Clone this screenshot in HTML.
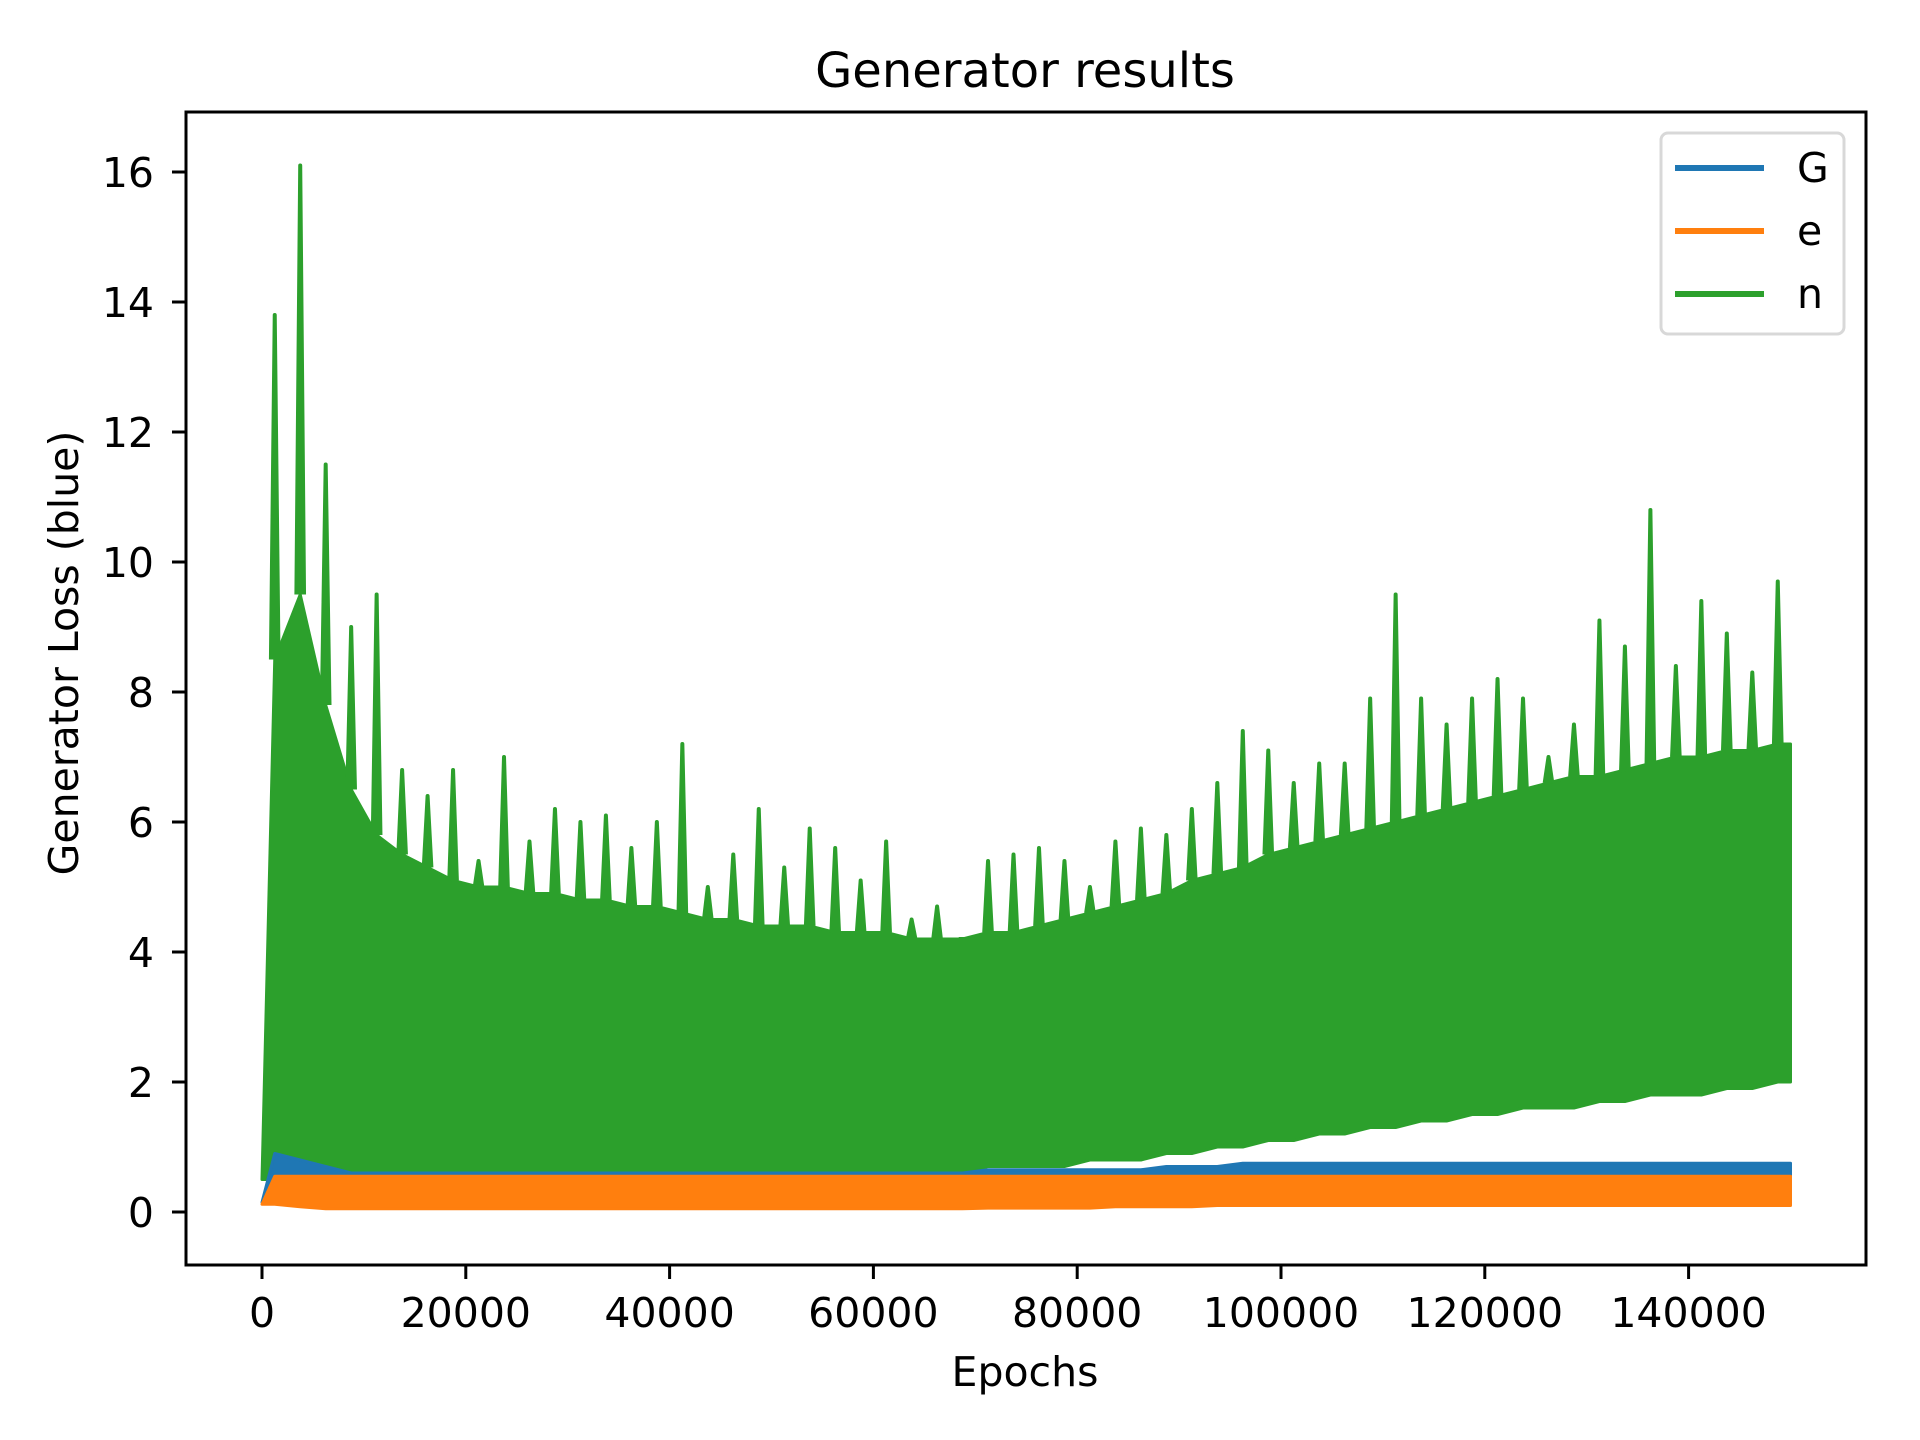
<!DOCTYPE html>
<html><head><meta charset="utf-8"><style>
html,body{margin:0;padding:0;background:#fff;}
svg{display:block;font-family:"DejaVu Sans","Liberation Sans",sans-serif;}
</style></head><body>
<svg id="chart" width="1920" height="1440" viewBox="0 0 1920 1440" xmlns="http://www.w3.org/2000/svg">
<rect width="1920" height="1440" fill="#fff"/>
<text x="1025" y="87" font-size="48" text-anchor="middle" fill="#000">Generator results</text>
<g id="plot"></g>
<g id="axes"></g>
<text x="1025" y="1386" font-size="41" text-anchor="middle">Epochs</text>
<text transform="translate(78,653) rotate(-90)" font-size="41" text-anchor="middle">Generator Loss (blue)</text>
<g>
<rect x="1661" y="133" width="183" height="201" rx="7" fill="#fff" stroke="#d6d6d6" stroke-width="3" opacity="0.95"/>
<g><line x1="1675" y1="168" x2="1764" y2="168" stroke="#1f77b4" stroke-width="6"/><text x="1797" y="182" font-size="41">G</text></g>
<g><line x1="1675" y1="231" x2="1764" y2="231" stroke="#ff7f0e" stroke-width="6"/><text x="1797" y="245" font-size="41">e</text></g>
<g><line x1="1675" y1="294" x2="1764" y2="294" stroke="#2ca02c" stroke-width="6"/><text x="1797" y="308" font-size="41">n</text></g>
</g>
</svg>
<script>
const binEpochs = [1250,3750,6250,8750,11250,13750,16250,18750,21250,23750,26250,28750,31250,33750,36250,38750,41250,43750,46250,48750,51250,53750,56250,58750,61250,63750,66250,68750,71250,73750,76250,78750,81250,83750,86250,88750,91250,93750,96250,98750,101250,103750,106250,108750,111250,113750,116250,118750,121250,123750,126250,128750,131250,133750,136250,138750,141250,143750,146250,148750];
const greenPeak = [13.8,16.1,11.5,9.0,9.5,6.8,6.4,6.8,5.4,7.0,5.7,6.2,6.0,6.1,5.6,6.0,7.2,5.0,5.5,6.2,5.3,5.9,5.6,5.1,5.7,4.5,4.7,4.2,5.4,5.5,5.6,5.4,5.0,5.7,5.9,5.8,6.2,6.6,7.4,7.1,6.6,6.9,6.9,7.9,9.5,7.9,7.5,7.9,8.2,7.9,7.0,7.5,9.1,8.7,10.8,8.4,9.4,8.9,8.3,9.7];
const greenBody = [8.5,9.5,7.8,6.5,5.8,5.5,5.3,5.1,5.0,5.0,4.9,4.9,4.8,4.8,4.7,4.7,4.6,4.5,4.5,4.4,4.4,4.4,4.3,4.3,4.3,4.2,4.2,4.2,4.3,4.3,4.4,4.5,4.6,4.7,4.8,4.9,5.1,5.2,5.3,5.5,5.6,5.7,5.8,5.9,6.0,6.1,6.2,6.3,6.4,6.5,6.6,6.7,6.7,6.8,6.9,7.0,7.0,7.1,7.1,7.2];
const greenLow = [0.5,0.4,0.4,0.5,0.5,0.5,0.5,0.5,0.5,0.5,0.5,0.5,0.5,0.4,0.5,0.5,0.5,0.5,0.5,0.5,0.5,0.5,0.5,0.6,0.6,0.6,0.6,0.6,0.7,0.7,0.7,0.7,0.8,0.8,0.8,0.9,0.9,1.0,1.0,1.1,1.1,1.2,1.2,1.3,1.3,1.4,1.4,1.5,1.5,1.6,1.6,1.6,1.7,1.7,1.8,1.8,1.8,1.9,1.9,2.0];
const blueTop = [0.9,0.8,0.7,0.6,0.6,0.6,0.6,0.6,0.6,0.6,0.6,0.6,0.6,0.6,0.6,0.6,0.6,0.6,0.6,0.6,0.6,0.6,0.6,0.6,0.6,0.6,0.6,0.6,0.65,0.65,0.65,0.65,0.65,0.65,0.65,0.7,0.7,0.7,0.75,0.75,0.75,0.75,0.75,0.75,0.75,0.75,0.75,0.75,0.75,0.75,0.75,0.75,0.75,0.75,0.75,0.75,0.75,0.75,0.75,0.75];
const blueLow = [0.15,0.15,0.15,0.15,0.15,0.15,0.15,0.15,0.15,0.15,0.15,0.15,0.15,0.15,0.15,0.15,0.15,0.15,0.15,0.15,0.15,0.15,0.15,0.15,0.15,0.15,0.15,0.15,0.15,0.15,0.15,0.15,0.15,0.15,0.15,0.15,0.15,0.15,0.15,0.15,0.15,0.15,0.15,0.15,0.15,0.15,0.15,0.15,0.15,0.15,0.15,0.15,0.15,0.15,0.15,0.15,0.15,0.15,0.15,0.15];
const orangeTop = [0.55,0.55,0.55,0.55,0.55,0.55,0.55,0.55,0.55,0.55,0.55,0.55,0.55,0.55,0.55,0.55,0.55,0.55,0.55,0.55,0.55,0.55,0.55,0.55,0.55,0.55,0.55,0.55,0.55,0.55,0.55,0.55,0.55,0.55,0.55,0.55,0.55,0.55,0.55,0.55,0.55,0.55,0.55,0.55,0.55,0.55,0.55,0.55,0.55,0.55,0.55,0.55,0.55,0.55,0.55,0.55,0.55,0.55,0.55,0.55];
const orangeLow = [0.12,0.08,0.05,0.05,0.05,0.05,0.05,0.05,0.05,0.05,0.05,0.05,0.05,0.05,0.05,0.05,0.05,0.05,0.05,0.05,0.05,0.05,0.05,0.05,0.05,0.05,0.05,0.05,0.06,0.06,0.06,0.06,0.06,0.08,0.08,0.08,0.08,0.1,0.1,0.1,0.1,0.1,0.1,0.1,0.1,0.1,0.1,0.1,0.1,0.1,0.1,0.1,0.1,0.1,0.1,0.1,0.1,0.1,0.1,0.1];
const xTicks = [0,20000,40000,60000,80000,100000,120000,140000];
const yTicks = [0,2,4,6,8,10,12,14,16];
const binWidth = 2500;

const NS = "http://www.w3.org/2000/svg";
const AX = {l:186, r:1866, t:112, b:1265};
function xs(v){ return 262 + v*203.8/20000; }
function ys(v){ return 1212 - v*65; }
function mk(tag, attrs, parent){ const e=document.createElementNS(NS,tag); for(const k in attrs) e.setAttribute(k,attrs[k]); parent.appendChild(e); return e; }
const plot = document.getElementById('plot');
const axes = document.getElementById('axes');

function band(top, low, color, name){
  let pts=[];
  pts.push([xs(0), ys(low[0])]);
  for(let i=0;i<binEpochs.length;i++) pts.push([xs(binEpochs[i]), ys(top[i])]);
  pts.push([xs(150000), ys(top[top.length-1])]);
  pts.push([xs(150000), ys(low[low.length-1])]);
  for(let i=binEpochs.length-1;i>=0;i--) pts.push([xs(binEpochs[i]), ys(low[i])]);
  const p = mk('polygon',{points:pts.map(q=>q.join(',')).join(' '), fill:color, stroke:color, 'stroke-width':3, 'stroke-linejoin':'round'}, plot);
  
  
}
band(greenBody, greenLow, '#2ca02c', 'series-n-body');
let d='';
for(let i=0;i<binEpochs.length;i++){
  const x0 = xs(binEpochs[i]-binWidth*0.15), x1 = xs(binEpochs[i]), x2 = xs(binEpochs[i]+binWidth*0.15);
  d += `M${x0},${ys(greenBody[i])} L${x1},${ys(greenPeak[i])} L${x2},${ys(greenBody[i])} `;
}
const sp = mk('path',{d:d, fill:'#2ca02c', stroke:'#2ca02c', 'stroke-width':4, 'stroke-linejoin':'round'}, plot);


band(blueTop, blueLow, '#1f77b4', 'series-g');
band(orangeTop, orangeLow, '#ff7f0e', 'series-e');

const fr = mk('rect',{x:AX.l,y:AX.t,width:AX.r-AX.l,height:AX.b-AX.t,fill:'none',stroke:'#000','stroke-width':3}, axes);


xTicks.forEach(v=>{
  const x=xs(v);
  const t = mk('line',{x1:x,y1:AX.b,x2:x,y2:AX.b+14,stroke:'#000','stroke-width':3}, axes);
  
  
  const l = mk('text',{x:x,y:1327,'font-size':41,'text-anchor':'middle'}, axes);
  l.textContent = v;
  
  
});
yTicks.forEach(v=>{
  const y=ys(v);
  const t = mk('line',{x1:AX.l-14,y1:y,x2:AX.l,y2:y,stroke:'#000','stroke-width':3}, axes);
  
  
  const l = mk('text',{x:154,y:y+15,'font-size':41,'text-anchor':'end'}, axes);
  l.textContent = v;
  
  
});
</script>
</body></html>
